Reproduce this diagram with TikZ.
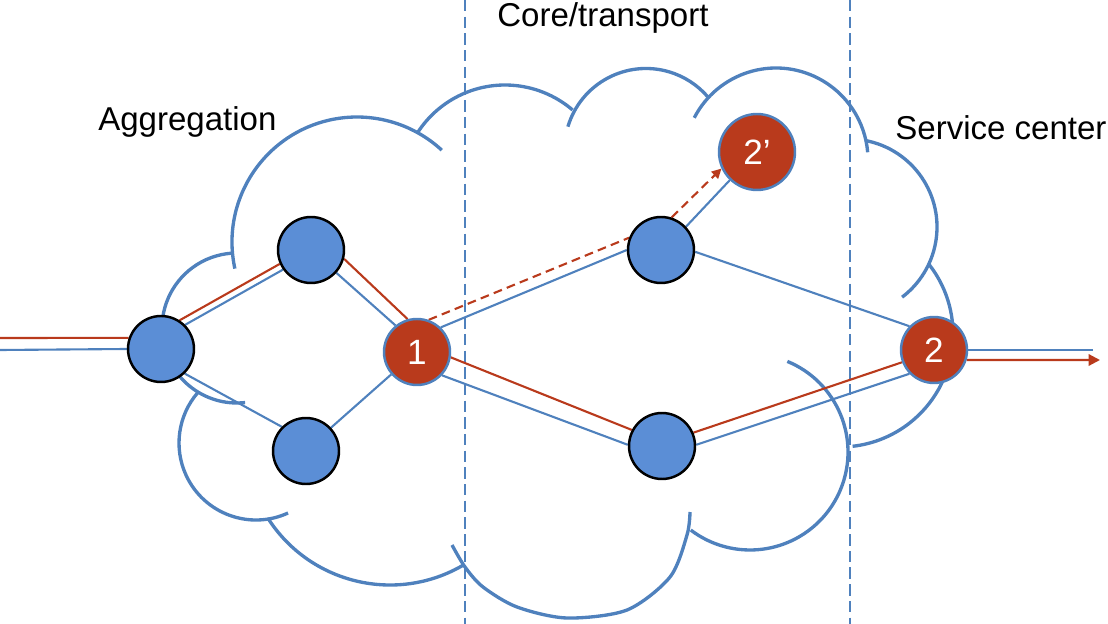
\documentclass[tikz,border=0pt]{standalone}
\usepackage{fontspec}
\setsansfont{Liberation Sans}
\usetikzlibrary{arrows.meta, backgrounds}
\definecolor{cblue}{HTML}{4F81BD}
\definecolor{cfill}{HTML}{5B8ED6}
\definecolor{cred}{HTML}{B93A1C}
\tikzset{
  every picture/.style={font=\sffamily},
  hub/.style={circle, draw=black, fill=cfill, line width=1.4pt, minimum size=1.32cm, inner sep=0pt},
  site/.style={circle, draw=cblue, fill=cred, line width=1.4pt, minimum size=1.32cm, inner sep=0pt, text=white, font=\sffamily\fontsize{20}{24}\selectfont},
  blueline/.style={draw=cblue, line width=1.2pt},
  redline/.style={draw=cred, line width=1.2pt},
  reddash/.style={redline, dash pattern=on 5pt off 3pt},
  cloudline/.style={draw=cblue, line width=1.9pt},
  divider/.style={draw=cblue, line width=1.1pt, dash pattern=on 6.5pt off 3pt},
  region/.style={font=\sffamily\fontsize{18.8}{22}\selectfont, inner sep=0pt},
}

\begin{document}
\begin{tikzpicture}[x=0.02cm, y=-0.02cm]
  \useasboundingbox (0,0) rectangle (1108,624);
  % network nodes
  \node[hub] (agg) at (161,349) {};
  \node[hub] (aggup) at (311,250) {};
  \node[hub] (aggdn) at (306,451) {};
  \node[site] (n1) at (417,352) {1};
  \node[hub] (coreup) at (661,250) {};
  \node[hub] (coredn) at (662,446) {};
  \node[site, minimum size=1.52cm] (n2b) at (757,152) {2’};
  \node[site] (n2) at (934,350) {2};
  \coordinate (inred) at (0,338);
  \coordinate (inblue) at (0,350);
  \coordinate (outblue) at (1093,350);
  \coordinate (outred) at (1100,360);
  % region labels
  \node[region, anchor=base west] (lblagg) at (98,131) {Aggregation};
  \node[region, anchor=base west] (lblcore) at (497,27) {Core/transport};
  \node[region, anchor=base west] (lblsvc) at (895,140) {Service center};
  \begin{scope}[on background layer]
    % cloud puffs: centre/radius/from/to
    \foreach \cx/\cy/\r/\s/\e in {237/328/75/83.8/266.2, 357/242/125/167.7/312.7, 505/189/104/213.3/310.5,
                                  646/150/81.5/196.6/319.1, 776/160/92/207.3/355.2, 849/227/88/280.5/412.9,
                                  840/334/113/-37.8/83.6, 750/452/98/-67.6/127.2, 390/440/145/147.4/59.4, 256/443/77/65.4/220.8}
      \draw[cloudline] (\cx,\cy) ++(\s:\r) arc[start angle=\s, end angle=\e, radius=\r];
    \draw[cloudline] plot[smooth] coordinates {(690,512) (687,535) (670,577) (627,610) (567,618) (517,607) (483,587) (465,567) (452,545)};
    % region borders
    \draw[divider] (465,0) -- (465,624);
    \draw[divider] (850,0) -- (850,624);
    % links
    \foreach \a/\b in {inblue/agg.west, agg.45/aggup.215, aggup.-42/n1.129, agg.-46/aggdn.135, aggdn.43/n1.221,
                       n1.46/coreup.west, coreup.43/n2b.226, coreup.-3/n2.136, n1.-43/coredn.178, coredn.2/n2.224, n2.east/outblue}
      \draw[blueline] (\a) -- (\b);
    \foreach \a/\b in {inred/agg.161, agg.57/aggup.204, aggup.-15/n1.106, n1.-9/coredn.152, coredn.23/n2.201}
      \draw[redline] (\a) -- (\b);
    \draw[reddash] (n1.70) -- (coreup.159);
    \draw[reddash, -{Triangle[length=5.5pt, width=5.5pt]}] (coreup.72) -- (n2b.205);
    \draw[redline, -{Triangle[length=6.5pt, width=6.5pt]}] (n2.-17) -- (outred);
  \end{scope}
\end{tikzpicture}
\end{document}
